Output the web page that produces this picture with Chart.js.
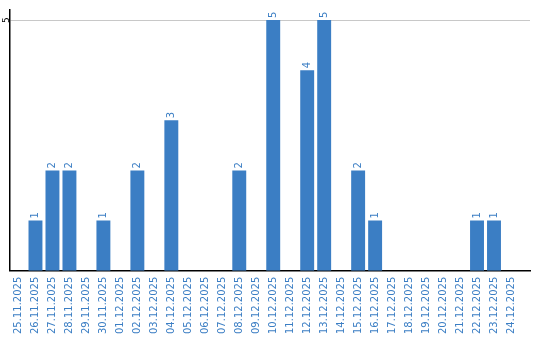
<!DOCTYPE html>
<html>
<head>
<meta charset="utf-8">
<script src="https://cdn.jsdelivr.net/npm/chart.js@4.4.1/dist/chart.umd.min.js"></script>
<style>
  html, body { margin: 0; padding: 0; background: #fff; }
  #wrap { width: 540px; height: 340px; position: relative; }
</style>
</head>
<body>
<div id="wrap"><canvas id="chart"></canvas></div>
<script>
// === DATA ===
const days = [
  '25.11.2025', '26.11.2025', '27.11.2025', '28.11.2025', '29.11.2025', '30.11.2025',
  '01.12.2025', '02.12.2025', '03.12.2025', '04.12.2025', '05.12.2025', '06.12.2025',
  '07.12.2025', '08.12.2025', '09.12.2025', '10.12.2025', '11.12.2025', '12.12.2025',
  '13.12.2025', '14.12.2025', '15.12.2025', '16.12.2025', '17.12.2025', '18.12.2025',
  '19.12.2025', '20.12.2025', '21.12.2025', '22.12.2025', '23.12.2025', '24.12.2025'
];
const counts = [0, 1, 2, 2, 0, 1, 0, 2, 0, 3, 0, 0, 0, 2, 0, 5, 0, 4, 5, 0, 2, 1, 0, 0, 0, 0, 0, 1, 1, 0];
const yTicks = [5];
const yMax = 5.2;

const BLUE = '#3b7ec4';
const FONT = 'DejaVu Sans';

// rotated value labels above the bars + rotated y tick
const barLabels = {
  id: 'barLabels',
  afterDatasetsDraw(chart) {
    const ctx = chart.ctx;
    const meta = chart.getDatasetMeta(0);
    ctx.save();
    ctx.font = `10px "${FONT}"`;
    ctx.fillStyle = BLUE;
    ctx.textAlign = 'left';
    ctx.textBaseline = 'middle';
    meta.data.forEach((bar, idx) => {
      const v = counts[idx];
      if (!v) return;
      ctx.save();
      ctx.translate(bar.x, bar.y - 2);
      ctx.rotate(-Math.PI / 2);
      ctx.fillText(String(v), 0, 0);
      ctx.restore();
    });
    // y tick labels
    const ys = chart.scales.y;
    ctx.fillStyle = '#000';
    ctx.textAlign = 'center';
    ctx.font = `9px "${FONT}"`;
    yTicks.forEach(t => {
      ctx.save();
      ctx.translate(chart.chartArea.left - 3.5, ys.getPixelForValue(t));
      ctx.rotate(-Math.PI / 2);
      ctx.fillText(String(t), 0, 0);
      ctx.restore();
    });
    ctx.restore();
  }
};

new Chart(document.getElementById('chart'), {
  type: 'bar',
  data: {
    labels: days,
    datasets: [{
      data: counts,
      backgroundColor: BLUE,
      barPercentage: 0.82,
      categoryPercentage: 1
    }]
  },
  options: {
    responsive: true,
    maintainAspectRatio: false,
    animation: false,
    layout: { padding: { left: 10, top: 10, right: 10, bottom: 0 } },
    plugins: { legend: { display: false }, tooltip: { enabled: false } },
    scales: {
      x: {
        // leave some empty room after the last day, like the original
        afterBuildTicks: axis => { axis._valueRange = days.length + 0.62; },
        grid: { display: false, drawTicks: false },
        border: { display: true, color: '#000', width: 1.5 },
        ticks: {
          autoSkip: false,
          minRotation: 90,
          maxRotation: 90,
          padding: 6,
          color: BLUE,
          font: { family: FONT, size: 10 }
        }
      },
      y: {
        min: 0,
        max: yMax,
        afterBuildTicks: axis => { axis.ticks = yTicks.map(v => ({ value: v })); },
        grid: { color: '#c8c8c8', lineWidth: 1, drawTicks: false },
        border: { display: true, color: '#000', width: 1.5 },
        ticks: { display: false }
      }
    }
  },
  plugins: [barLabels]
});
</script>
</body>
</html>
